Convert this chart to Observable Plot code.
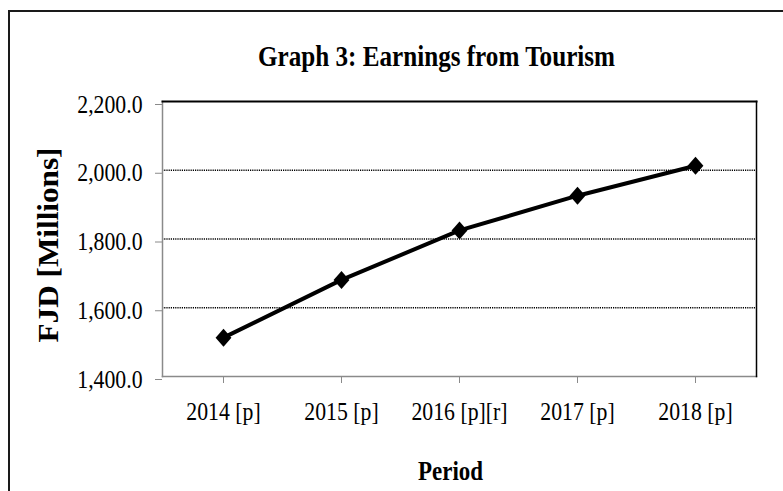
<!DOCTYPE html>
<html>
<head>
<meta charset="utf-8">
<script src="https://cdn.jsdelivr.net/npm/d3@7"></script>
<script src="https://cdn.jsdelivr.net/npm/@observablehq/plot@0.6"></script>
<style>
  html, body { margin: 0; padding: 0; background: white; }
  #wrap { position: relative; width: 783px; height: 491px; overflow: hidden; }
  #wrap svg { position: absolute; left: 0; top: 0; }
  #border { position: absolute; left: 8px; top: 10px; width: 900px; height: 600px;
            border-left: 2px solid #1a1a1a; border-top: 2px solid #1a1a1a; pointer-events: none; }
</style>
</head>
<body>
<div id="wrap"><div id="border"></div></div>
<script>
// ---- data ----
const categories = ["2014 [p]", "2015 [p]", "2016 [p][r]", "2017 [p]", "2018 [p]"];
const earnings = [1513, 1681, 1825, 1926, 2013];
const yTicks = [1400, 1600, 1800, 2000, 2200];
const gridTicks = [1600, 1800, 2000];
const titleText = "Graph 3: Earnings from Tourism";
const xLabel = "Period";
const yLabel = "FJD [Millions]";

const data = categories.map((c, i) => ({period: c, value: earnings[i]}));

const diamond = {
  draw(context, size) {
    const r = Math.sqrt(size / Math.PI);
    const w = r * 0.88;
    context.moveTo(0, -r);
    context.lineTo(w, 0);
    context.lineTo(0, r);
    context.lineTo(-w, 0);
    context.closePath();
  }
};

const serif = "'Liberation Serif', 'Times New Roman', Times, serif";

const plot = Plot.plot({
  width: 783,
  height: 491,
  marginLeft: 162,
  marginRight: 27,
  marginTop: 101,
  marginBottom: 115,
  style: {fontFamily: serif, background: "white", color: "black", overflow: "visible"},
  x: {type: "point", domain: categories, padding: 0.5},
  y: {domain: [1400, 2200]},
  marks: [
    Plot.ruleY(gridTicks, {stroke: "black", strokeWidth: 1.3, strokeDasharray: "1.2,1"}),
    Plot.frame({anchor: "left", stroke: "#8a8a8a", strokeWidth: 1.5}),
    Plot.frame({anchor: "bottom", stroke: "#8a8a8a", strokeWidth: 1.5}),
    Plot.frame({anchor: "top", stroke: "black", strokeWidth: 2}),
    Plot.frame({anchor: "right", stroke: "black", strokeWidth: 1.5}),
    Plot.axisY({ticks: yTicks, tickFormat: d3.format(",.1f"), tickSize: 7, tickPadding: 13,
                stroke: "#8a8a8a", fontSize: 25, dy: 3, label: null, fill: "black"}),
    Plot.axisX({tickSize: 7, tickPadding: 19, stroke: "#8a8a8a", fontSize: 25, label: null, fill: "black"}),
    Plot.line(data, {x: "period", y: "value", stroke: "black", strokeWidth: 4}),
    Plot.dot(data, {x: "period", y: "value", symbol: diamond, r: 9, fill: "black", stroke: "none"}),
    Plot.text([titleText], {frameAnchor: "top", lineAnchor: "top", dx: -23, dy: -57, fontSize: 30,
                            fontWeight: "bold", fill: "black", className: "ttl"}),
    Plot.text([xLabel], {frameAnchor: "bottom", lineAnchor: "top", dx: -9, dy: 84, fontSize: 28,
                         fontWeight: "bold", fill: "black", className: "xl"}),
    Plot.text([yLabel], {frameAnchor: "left", rotate: -90, textAnchor: "middle", lineAnchor: "middle",
                         dx: -114, dy: 6, fontSize: 30, fontWeight: "bold", fill: "black", className: "yl"})
  ]
});

document.getElementById("wrap").insertBefore(plot, document.getElementById("border"));

function fit(el, target) {
  el.setAttribute("textLength", target);
  el.setAttribute("lengthAdjust", "spacingAndGlyphs");
}
function condense(el, k) {
  const L = el.getComputedTextLength();
  fit(el, L * k);
}
// condense tick labels (reference typography is horizontally narrow)
d3.select(plot).selectAll("g[aria-label='y-axis tick label'] text, g[aria-label='x-axis tick label'] text")
  .each(function() { condense(this, 0.87); });
d3.select(plot).selectAll("g.ttl text").each(function() { fit(this, 357); });
d3.select(plot).selectAll("g.xl text").each(function() { fit(this, 65); });
d3.select(plot).selectAll("g.yl text").each(function() { fit(this, 195); });
</script>
</body>
</html>
